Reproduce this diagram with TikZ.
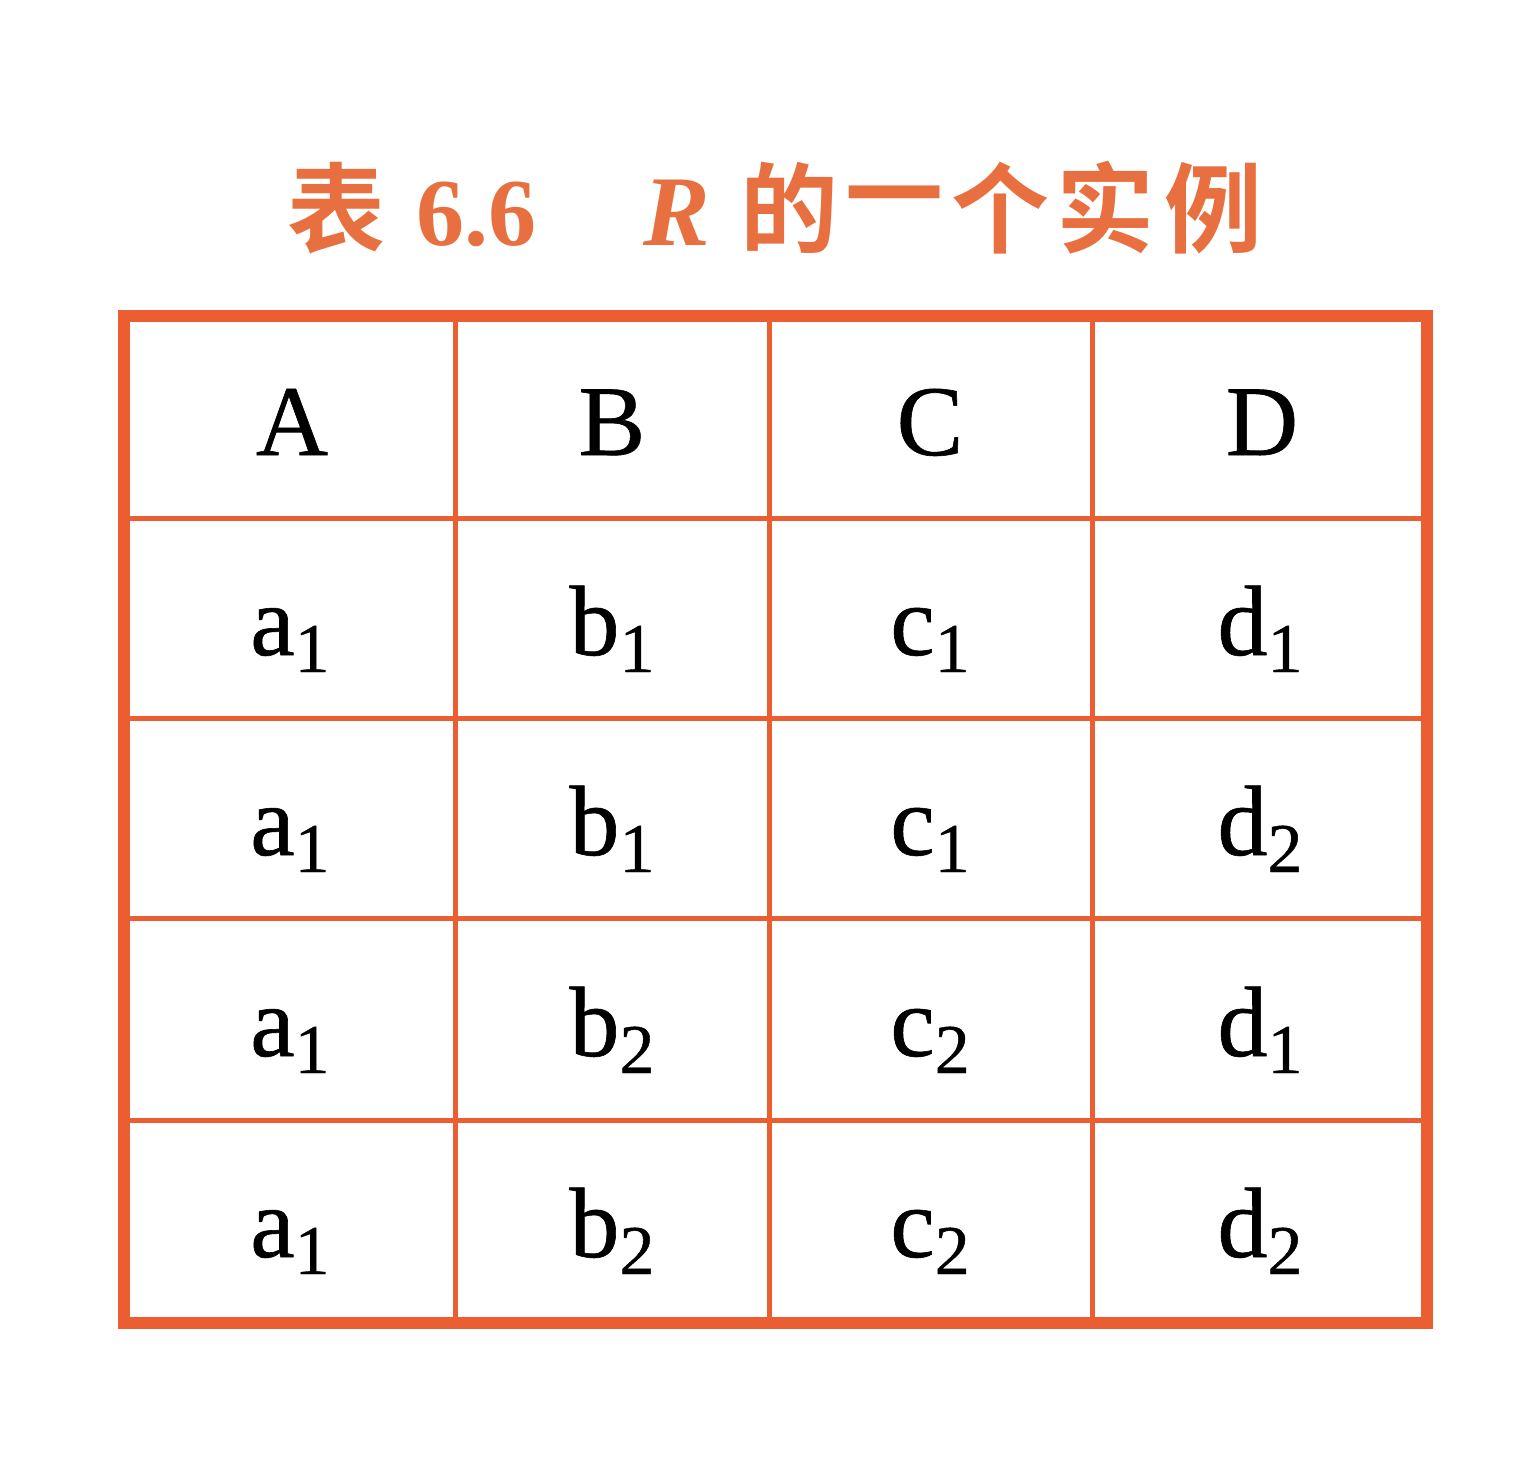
\documentclass[tikz,border=0pt]{standalone}
\usepackage{fontspec}
\setmainfont{Liberation Serif}
\newfontfamily\cellfont[FakeBold=0.6]{Liberation Serif}
\newfontfamily\cjkb{Noto Sans CJK SC Bold}
\definecolor{gridc}{RGB}{234,94,50}
\definecolor{titlec}{RGB}{232,112,64}
\newcommand{\cellsub}[2]{#1\raisebox{-17pt}{\fontsize{70}{80}\selectfont #2}}
\begin{document}
\begin{tikzpicture}[x=1pt,y=-1pt,
  celltxt/.style={anchor=base,inner sep=0pt,font=\cellfont\fontsize{100}{120}\selectfont,text=black},
  inner/.style={draw=gridc,line width=5pt},
  outer/.style={draw=gridc,line width=12pt,line join=miter},
  ttl/.style={text=titlec,inner sep=0pt},
  cjk/.style={ttl,anchor=center,font=\cjkb\fontsize{98}{110}\selectfont}]
\useasboundingbox (0,0) rectangle (1526,1465);
% title
\node[cjk] (t1) at (336,208) {表};
\node[ttl,anchor=base,font=\fontsize{96}{110}\selectfont\bfseries] (t2) at (476,245) {6.6};
\node[ttl,anchor=base,font=\fontsize{100}{110}\selectfont\bfseries\itshape] (t3) at (677,245) {R};
\node[cjk] (t4) at (789,208) {的};
\node[cjk] (t5) at (894,208) {一};
\node[cjk] (t6) at (1000,208) {个};
\node[cjk] (t7) at (1105,208) {实};
\node[cjk] (t8) at (1213,208) {例};
% grid
\foreach \x in {455,769,1092} \draw[inner] (\x,316) -- (\x,1323);
\foreach \y in {518,718,918,1120} \draw[inner] (124,\y) -- (1427,\y);
\draw[outer] (124,316) rectangle (1427,1323);
% header
\node[celltxt] (hA) at (292,455) {A};
\node[celltxt] (hB) at (612,455) {B};
\node[celltxt] (hC) at (930,455) {C};
\node[celltxt] (hD) at (1262,455) {D};
% rows
\node[celltxt] (r1a) at (290,655) {\cellsub{a}{1}};
\node[celltxt] (r1b) at (612,655) {\cellsub{b}{1}};
\node[celltxt] (r1c) at (930,655) {\cellsub{c}{1}};
\node[celltxt] (r1d) at (1260,655) {\cellsub{d}{1}};
\node[celltxt] (r2a) at (290,855) {\cellsub{a}{1}};
\node[celltxt] (r2b) at (612,855) {\cellsub{b}{1}};
\node[celltxt] (r2c) at (930,855) {\cellsub{c}{1}};
\node[celltxt] (r2d) at (1260,855) {\cellsub{d}{2}};
\node[celltxt] (r3a) at (290,1056) {\cellsub{a}{1}};
\node[celltxt] (r3b) at (612,1056) {\cellsub{b}{2}};
\node[celltxt] (r3c) at (930,1056) {\cellsub{c}{2}};
\node[celltxt] (r3d) at (1260,1056) {\cellsub{d}{1}};
\node[celltxt] (r4a) at (290,1257) {\cellsub{a}{1}};
\node[celltxt] (r4b) at (612,1257) {\cellsub{b}{2}};
\node[celltxt] (r4c) at (930,1257) {\cellsub{c}{2}};
\node[celltxt] (r4d) at (1260,1257) {\cellsub{d}{2}};
\end{tikzpicture}
\end{document}
